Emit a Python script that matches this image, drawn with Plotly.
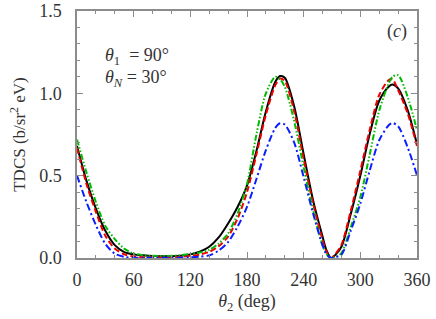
import plotly.graph_objects as go

theta2 = [0, 10, 20, 30, 40, 50, 60, 70, 80, 90, 100, 110, 120, 130, 140, 150, 160, 170, 180,
          190, 200, 210, 215, 220, 230, 240, 250, 260, 264, 269, 274, 280, 290, 300, 310, 320,
          330, 334, 340, 350, 360]

black = [0.68, 0.47, 0.30, 0.165, 0.078, 0.036, 0.022, 0.016, 0.012, 0.011, 0.011, 0.014, 0.022,
         0.038, 0.068, 0.125, 0.21, 0.31, 0.44, 0.65, 0.89, 1.07, 1.105, 1.095, 0.92, 0.63, 0.35,
         0.13, 0.05, 0.0, 0.022, 0.068, 0.27, 0.50, 0.755, 0.955, 1.04, 1.053, 1.03, 0.90, 0.69]

red = [0.67, 0.45, 0.28, 0.135, 0.057, 0.022, 0.009, 0.005, 0.004, 0.004, 0.005, 0.008, 0.013,
       0.021, 0.037, 0.072, 0.13, 0.24, 0.40, 0.63, 0.87, 1.05, 1.09, 1.075, 0.89, 0.60, 0.33,
       0.11, 0.04, 0.0, 0.028, 0.08, 0.29, 0.53, 0.78, 0.99, 1.08, 1.085, 1.02, 0.88, 0.68]

green = [0.72, 0.52, 0.34, 0.195, 0.115, 0.057, 0.027, 0.017, 0.013, 0.012, 0.013, 0.017, 0.025,
         0.033, 0.05, 0.088, 0.15, 0.27, 0.45, 0.75, 1.00, 1.10, 1.085, 1.04, 0.83, 0.55, 0.29,
         0.077, 0.025, 0.0, 0.008, 0.03, 0.19, 0.37, 0.63, 0.895, 1.06, 1.10, 1.11, 0.98, 0.775]

blue = [0.50, 0.34, 0.20, 0.086, 0.026, 0.007, 0.002, 0.001, 0.001, 0.001, 0.001, 0.002, 0.004,
        0.008, 0.016, 0.045, 0.097, 0.19, 0.31, 0.48, 0.655, 0.79, 0.818, 0.81, 0.70, 0.49, 0.27,
        0.077, 0.025, 0.0, 0.006, 0.02, 0.168, 0.33, 0.532, 0.715, 0.806, 0.82, 0.80, 0.674, 0.502]

x_ticks = [0, 60, 120, 180, 240, 300, 360]
y_ticks = [0.0, 0.5, 1.0, 1.5]
y_tick_labels = ["0.0", "0.5", "1.0", "1.5"]

FONT = "Liberation Serif"
TXT = "#333333"
AX = "#8c8c8c"

fig = go.Figure()
series = [
    (black, "#000000", "solid", 2.0),
    (red, "#ee0000", "6px,3px", 2.0),
    (green, "#00bb00", "6px,2px,1.5px,2px,1.5px,2px", 2.0),
    (blue, "#0a1eff", "7px,3px,2px,3px", 2.0),
]
for ys, col, dash, w in series:
    fig.add_trace(go.Scatter(
        x=theta2, y=ys, mode="lines",
        line=dict(color=col, dash=dash, width=w, shape="spline", smoothing=0.8),
        showlegend=False, hoverinfo="skip"))

axis_common = dict(
    showline=True, linecolor=AX, linewidth=1.5, mirror="ticks",
    ticks="inside", tickcolor=AX, tickwidth=1, ticklen=6,
    showgrid=False, zeroline=False, automargin=False,
    ticklabeloverflow="allow",
    tickfont=dict(family=FONT, size=18, color=TXT),
)

fig.update_xaxes(
    range=[0, 360], tickvals=x_ticks, ticktext=[str(v) for v in x_ticks],
    minor=dict(dtick=20, ticks="inside", ticklen=3, tickcolor=AX, tickwidth=1),
    title=dict(text="<i>θ</i><sub>2</sub> (deg)", font=dict(family=FONT, size=18, color=TXT),
               standoff=5),
    ticklabelstandoff=5,
    **axis_common)
fig.update_yaxes(
    range=[0, 1.5], tickvals=y_ticks, ticktext=y_tick_labels,
    minor=dict(dtick=0.1, ticks="inside", ticklen=3, tickcolor=AX, tickwidth=1),
    title=dict(text="TDCS (b/sr<sup>2</sup> eV)", font=dict(family=FONT, size=17, color=TXT),
               standoff=9),
    ticklabelstandoff=10,
    **axis_common)

fig.add_annotation(
    xref="paper", yref="paper", x=0.075, y=0.815, xanchor="left", yanchor="middle",
    text="<i>θ</i><sub>1</sub>  = 90°", showarrow=False,
    font=dict(family=FONT, size=18, color=TXT))
fig.add_annotation(
    xref="paper", yref="paper", x=0.075, y=0.725, xanchor="left", yanchor="middle",
    text="<i>θ</i><sub><i>N</i></sub> = 30°", showarrow=False,
    font=dict(family=FONT, size=18, color=TXT))
fig.add_annotation(
    xref="paper", yref="paper", x=0.975, y=0.915, xanchor="right", yanchor="middle",
    text="(<i>c</i>)", showarrow=False,
    font=dict(family=FONT, size=18, color=TXT))

fig.update_layout(
    width=436, height=319,
    margin=dict(l=77, r=19, t=11, b=61),
    paper_bgcolor="white", plot_bgcolor="white",
)

# remove the default 8px page margin so the figure sits at the window's corner
fig.write_html("out.html", config={"displayModeBar": False},
               post_script="document.body.style.margin='0';")
